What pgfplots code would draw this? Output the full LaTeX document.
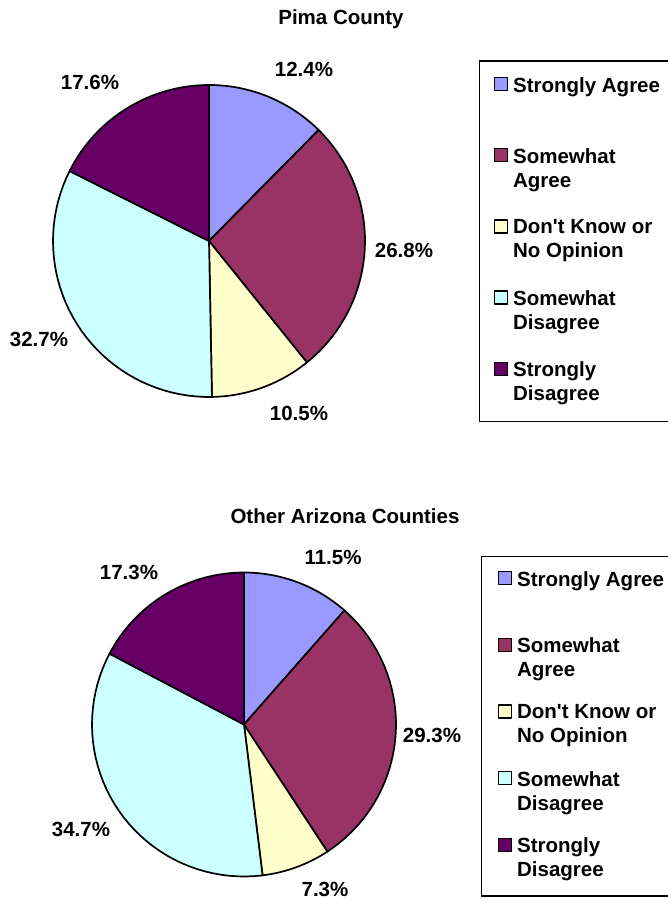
\documentclass[border=0pt]{standalone}
\usepackage{pgfplots}
\pgfplotsset{compat=1.18}
\usepackage{fontspec}
\setmainfont{Liberation Sans}
\definecolor{sa}{HTML}{9999FF}
\definecolor{swa}{HTML}{993366}
\definecolor{dk}{HTML}{FFFFCC}
\definecolor{swd}{HTML}{CCFFFF}
\definecolor{sd}{HTML}{660066}
\newcommand{\lf}{\fontsize{20.5}{24}\selectfont\bfseries}
\newcommand{\ent}[1]{\parbox[c][44pt][t]{150pt}{\vspace*{-8.5pt}\lf #1}}
\pgfplotsset{
  piebase/.style={
    scale only axis, width=668pt, height=899pt,
    xmin=0, xmax=668, ymin=0, ymax=899,
    hide axis, clip=false,
    legend cell align=left,
    legend image code/.code={\draw[##1, draw=black, line width=1.2pt] (0pt,8.2pt) rectangle (13pt,21.2pt); \path (0pt,-21.2pt);},
  },
  slice/.style={draw=black, line width=1.7pt, line join=round, samples=41, fill=#1},
}
\begin{document}
\begin{tikzpicture}
\useasboundingbox (0,0) rectangle (668pt,899pt);
% ---------- Pima County ----------
\begin{axis}[piebase,
  legend style={at={(0.71707,0.93270)}, anchor=north west, draw=black, line width=1.3pt, fill=white,
    inner xsep=14pt, inner ysep=16pt, row sep=27.25pt, column sep=5pt,
    nodes={inner sep=0pt, anchor=west}},
]
\addplot[slice=sa,  domain=0:12.4]    ({209+156*sin(3.6*x)}, {658+156*cos(3.6*x)}) -- (axis cs:209,658) -- cycle;
\addlegendentry{\ent{Strongly Agree}}
\addplot[slice=swa, domain=12.4:39.2] ({209+156*sin(3.6*x)}, {658+156*cos(3.6*x)}) -- (axis cs:209,658) -- cycle;
\addlegendentry{\ent{Somewhat\\Agree}}
\addplot[slice=dk,  domain=39.2:49.7] ({209+156*sin(3.6*x)}, {658+156*cos(3.6*x)}) -- (axis cs:209,658) -- cycle;
\addlegendentry{\ent{Don\textquotesingle t Know or\\No Opinion}}
\addplot[slice=swd, domain=49.7:82.4] ({209+156*sin(3.6*x)}, {658+156*cos(3.6*x)}) -- (axis cs:209,658) -- cycle;
\addlegendentry{\ent{Somewhat\\Disagree}}
\addplot[slice=sd,  domain=82.4:100]  ({209+156*sin(3.6*x)}, {658+156*cos(3.6*x)}) -- (axis cs:209,658) -- cycle;
\addlegendentry{\ent{Strongly\\Disagree}}
\node[font=\lf] at (axis cs:341,880) {Pima County};
\node[font=\lf] at (axis cs:304,830) {12.4\%};
\node[font=\lf] at (axis cs:404,649) {26.8\%};
\node[font=\lf] at (axis cs:299,486) {10.5\%};
\node[font=\lf] at (axis cs:39,560) {32.7\%};
\node[font=\lf] at (axis cs:90,817) {17.6\%};
\end{axis}
% ---------- Other Arizona Counties ----------
\begin{axis}[piebase,
  legend style={at={(0.72006,0.38154)}, anchor=north west, draw=black, line width=1.3pt, fill=white,
    inner xsep=16pt, inner ysep=14.5pt, row sep=22.75pt, column sep=5pt,
    nodes={inner sep=0pt, anchor=west}},
]
\addplot[slice=sa,  domain=0:11.5]    ({244+152*sin(3.5964*x)}, {174.5+152*cos(3.5964*x)}) -- (axis cs:244,174.5) -- cycle;
\addlegendentry{\ent{Strongly Agree}}
\addplot[slice=swa, domain=11.5:40.8] ({244+152*sin(3.5964*x)}, {174.5+152*cos(3.5964*x)}) -- (axis cs:244,174.5) -- cycle;
\addlegendentry{\ent{Somewhat\\Agree}}
\addplot[slice=dk,  domain=40.8:48.1] ({244+152*sin(3.5964*x)}, {174.5+152*cos(3.5964*x)}) -- (axis cs:244,174.5) -- cycle;
\addlegendentry{\ent{Don\textquotesingle t Know or\\No Opinion}}
\addplot[slice=swd, domain=48.1:82.8] ({244+152*sin(3.5964*x)}, {174.5+152*cos(3.5964*x)}) -- (axis cs:244,174.5) -- cycle;
\addlegendentry{\ent{Somewhat\\Disagree}}
\addplot[slice=sd,  domain=82.8:100.1] ({244+152*sin(3.5964*x)}, {174.5+152*cos(3.5964*x)}) -- (axis cs:244,174.5) -- cycle;
\addlegendentry{\ent{Strongly\\Disagree}}
\node[font=\lf] at (axis cs:345,383) {Other Arizona Counties};
\node[font=\lf] at (axis cs:333,342) {11.5\%};
\node[font=\lf] at (axis cs:432,164) {29.3\%};
\node[font=\lf] at (axis cs:325,10) {7.3\%};
\node[font=\lf] at (axis cs:81,70) {34.7\%};
\node[font=\lf] at (axis cs:129,327) {17.3\%};
\end{axis}
\end{tikzpicture}
\end{document}
